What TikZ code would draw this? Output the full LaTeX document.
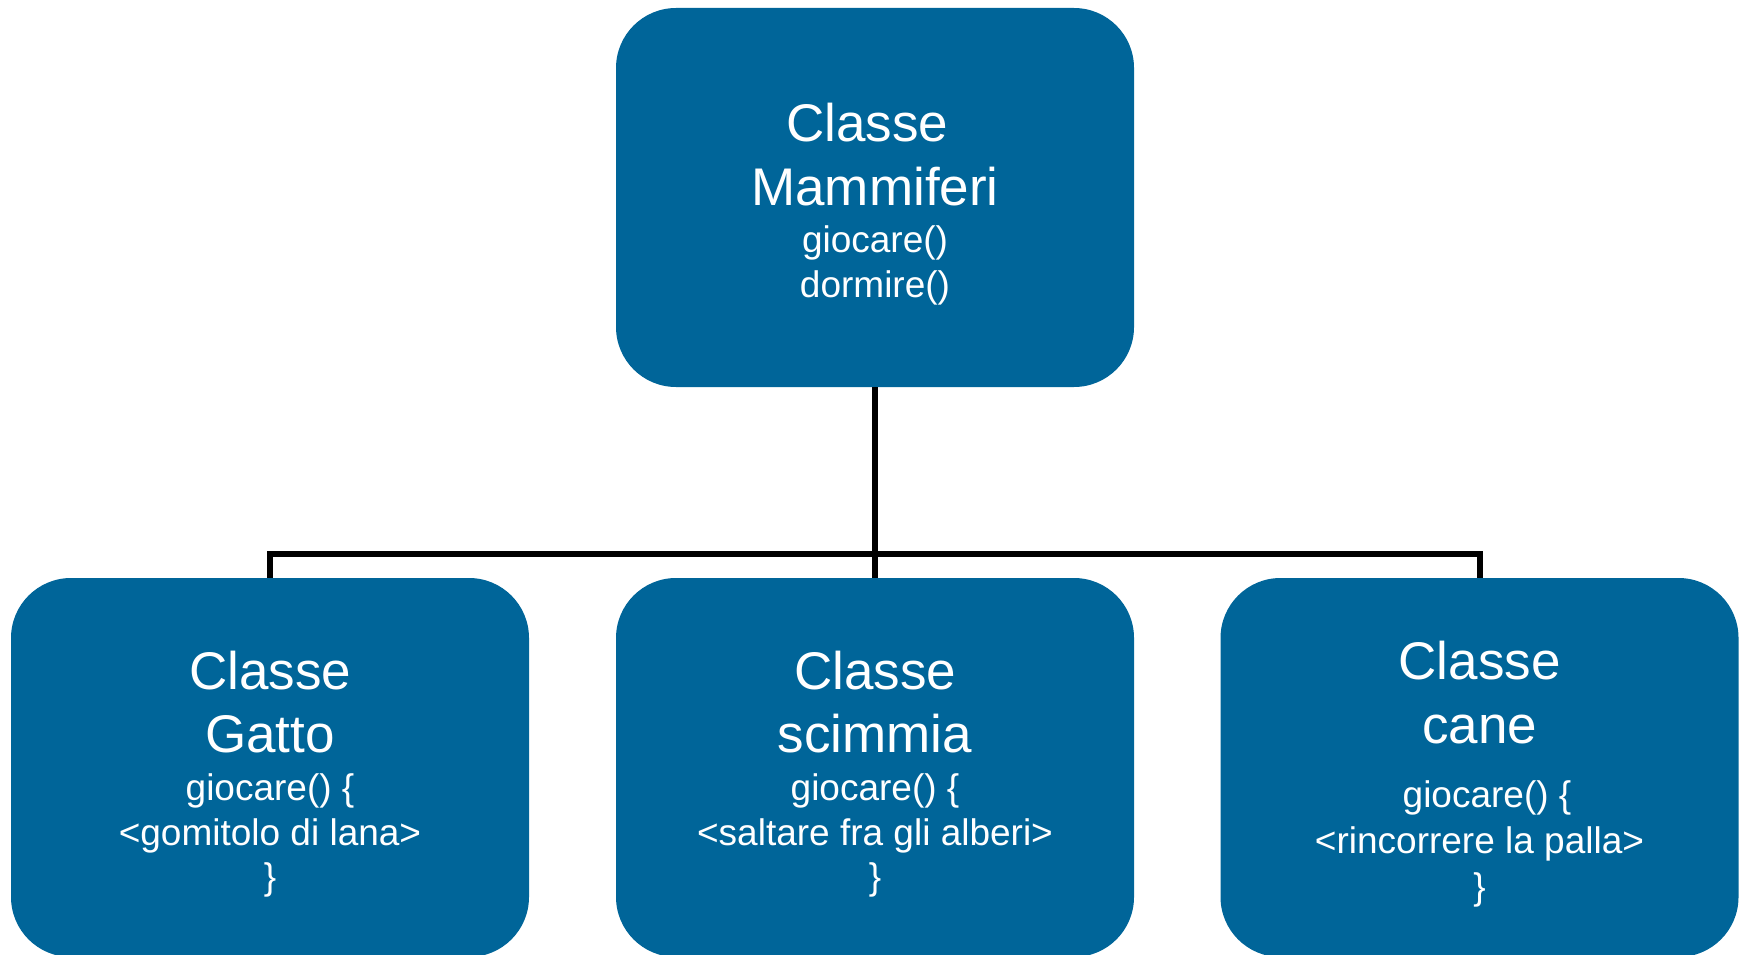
\documentclass[tikz,border=0pt]{standalone}
\usepackage{fontspec}
\setmainfont{Liberation Sans}
\definecolor{boxblue}{RGB}{0,101,153}
\begin{document}
\begin{tikzpicture}[x=1pt,y=-1pt,
  classbox/.style={draw=none,fill=boxblue,rectangle,rounded corners=60pt,minimum width=518pt,minimum height=379pt,inner sep=0pt},
  bigtxt/.style={anchor=base,text=white,inner sep=0pt,font=\fontsize{53}{60}\selectfont},
  smalltxt/.style={anchor=base,text=white,inner sep=0pt,font=\fontsize{37}{44}\selectfont},
  conn/.style={draw=black,line width=6pt,line join=miter}]
\useasboundingbox (0,0) rectangle (1747,955);
% boxes
\node[classbox] (top) at (875,197.5) {};
\node[classbox] (gatto) at (270,767.5) {};
\node[classbox] (scimmia) at (875,767.5) {};
\node[classbox] (cane) at (1479.5,767.5) {};
% connectors
\coordinate (j) at (875,554);
\draw[conn] (top.south) -- (j);
\draw[conn] (gatto.north) |- (j) -| (cane.north);
\draw[conn] (j) -- (scimmia.north);
% top text
\node[bigtxt] (t1) at (867,141) {Classe};
\node[bigtxt] (t2) at (875,205) {Mammiferi};
\node[smalltxt] (t3) at (875,252) {giocare()};
\node[smalltxt] (t4) at (875,297) {dormire()};
% gatto text
\node[bigtxt] (g1) at (270,689) {Classe};
\node[bigtxt] (g2) at (270,752) {Gatto};
\node[smalltxt] (g3) at (270,800) {giocare() \{};
\node[smalltxt] (g4) at (270,845) {<gomitolo di lana>};
\node[smalltxt] (g5) at (270,889) {\}};
% scimmia text
\node[bigtxt] (s1) at (875,689) {Classe};
\node[bigtxt] (s2) at (875,752) {scimmia};
\node[smalltxt] (s3) at (875,800) {giocare() \{};
\node[smalltxt] (s4) at (875,845) {<saltare fra gli alberi>};
\node[smalltxt] (s5) at (875,889) {\}};
% cane text
\node[bigtxt] (c1) at (1479.5,679) {Classe};
\node[bigtxt] (c2) at (1479.5,743) {cane};
\node[smalltxt] (c3) at (1487,807) {giocare() \{};
\node[smalltxt] (c4) at (1479.5,853) {<rincorrere la palla>};
\node[smalltxt] (c5) at (1479.5,899) {\}};
\end{tikzpicture}
\end{document}
